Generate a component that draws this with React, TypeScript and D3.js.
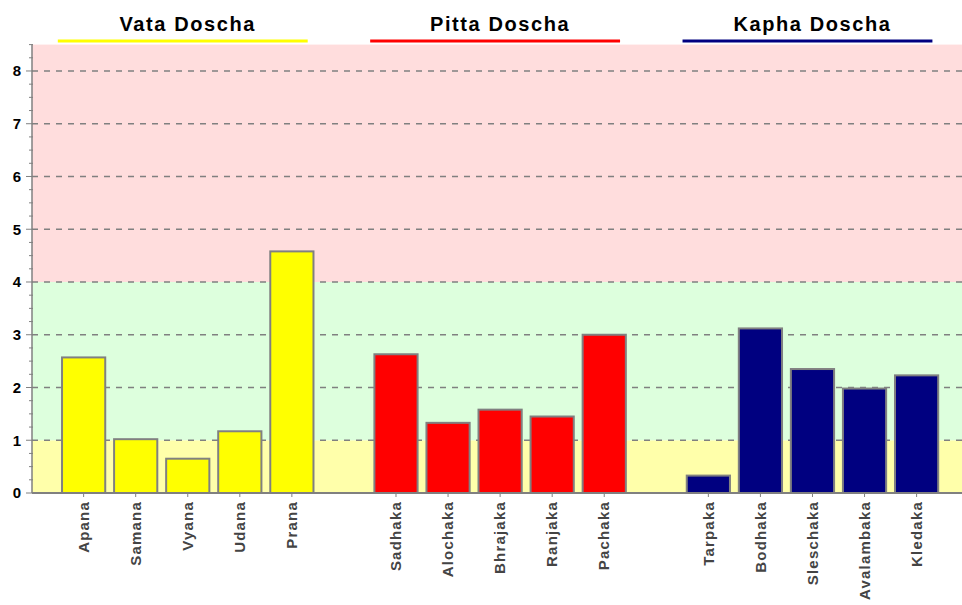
import React from "react";
import { scaleBand, scaleLinear, range } from "d3";

// Gruppen und Werte
const groups = ["Vata Doscha", "Pitta Doscha", "Kapha Doscha"];
const groupColors = ["#ffff00", "#ff0000", "#000080"];
const vataLabels = ["Apana", "Samana", "Vyana", "Udana", "Prana"];
const vataValues = [2.57, 1.02, 0.65, 1.17, 4.58];
const pittaLabels = ["Sadhaka", "Alochaka", "Bhrajaka", "Ranjaka", "Pachaka"];
const pittaValues = [2.63, 1.33, 1.58, 1.45, 3.0];
const kaphaLabels = ["Tarpaka", "Bodhaka", "Sleschaka", "Avalambaka", "Kledaka"];
const kaphaValues = [0.33, 3.12, 2.35, 1.98, 2.23];
const yTicks = [0, 1, 2, 3, 4, 5, 6, 7, 8];
// Zonen: gelb 0-1, grün 1-4, rot ab 4
const zones = [
  { from: 0, to: 1, color: "#ffffaa" },
  { from: 1, to: 4, color: "#ddffdd" },
  { from: 4, to: 8.5, color: "#ffdddd" },
];

const groupLabels = [vataLabels, pittaLabels, kaphaLabels];
const groupValues = [vataValues, pittaValues, kaphaValues];

export default function App() {
  const width = 962;
  const height = 605;
  const left = 32;
  const right = 962;
  const top = 44.6;
  const bottom = 493;

  // Slots inkl. Leerplätze zwischen den Gruppen
  const slots: string[] = [];
  groupLabels.forEach((labels, gi) => {
    if (gi > 0) slots.push(`__gap${gi}`);
    labels.forEach((l) => slots.push(l));
  });
  const step = 52.06;
  const pIn = 0.17;
  const r0 = 36;
  const x = scaleBand<string>()
    .domain(slots)
    .range([r0, r0 + step * (slots.length - pIn + 1)])
    .paddingOuter(0.5)
    .paddingInner(pIn);

  const y = scaleLinear().domain([0, 8.5]).range([bottom, top]);
  const minorTicks = range(0, 8.51, 0.25);

  const font = "'Liberation Sans', Arial, sans-serif";

  return (
    <svg
      width={width}
      height={height}
      style={{ position: "absolute", left: 0, top: 0, background: "#fff" }}
    >
      {/* Hintergrundzonen */}
      {zones.map((z, i) => (
        <rect
          key={i}
          x={left}
          y={y(z.to)}
          width={right - left}
          height={y(z.from) - y(z.to)}
          fill={z.color}
        />
      ))}
      {/* Gitterlinien */}
      {yTicks.slice(1).map((t) => (
        <line
          key={t}
          x1={left}
          x2={right}
          y1={y(t)}
          y2={y(t)}
          stroke="#808080"
          strokeWidth={1.5}
          strokeDasharray="6,6"
        />
      ))}
      {/* Balken */}
      {groupLabels.map((labels, gi) =>
        labels.map((l, i) => (
          <rect
            key={l}
            x={x(l)!}
            y={y(groupValues[gi][i])}
            width={x.bandwidth()}
            height={y(0) - y(groupValues[gi][i])}
            fill={groupColors[gi]}
            stroke="#808080"
            strokeWidth={2}
          />
        ))
      )}
      {/* Y-Achse */}
      <line x1={left} x2={left} y1={top} y2={bottom} stroke="#808080" strokeWidth={1.5} />
      {minorTicks.map((t) => (
        <line
          key={t}
          x1={Number.isInteger(t) ? left - 6 : left - 3}
          x2={left + 1}
          y1={y(t)}
          y2={y(t)}
          stroke="#808080"
          strokeWidth={1}
        />
      ))}
      {yTicks.map((t) => (
        <text
          key={t}
          x={21}
          y={y(t)}
          dy="0.36em"
          textAnchor="end"
          fontFamily={font}
          fontWeight="bold"
          fontSize={15}
          fill="#000"
        >
          {t}
        </text>
      ))}
      {/* X-Achse */}
      <line x1={left} x2={right} y1={bottom} y2={bottom} stroke="#808080" strokeWidth={2} />
      {groupLabels.flat().map((l) => {
        const cx = x(l)! + x.bandwidth() / 2;
        return (
          <g key={l}>
            <line x1={cx} x2={cx} y1={bottom} y2={bottom + 4} stroke="#808080" strokeWidth={1} />
            <text
              transform={`translate(${cx}, ${501}) rotate(-90)`}
              dy="0.35em"
              textAnchor="end"
              fontFamily={font}
              fontWeight="bold"
              fontSize={15}
              letterSpacing={1.2}
              fill="#444"
            >
              {l}
            </text>
          </g>
        );
      })}
      {/* Legende oben */}
      {groups.map((g, gi) => {
        const labels = groupLabels[gi];
        const mid = x(labels[2])! + x.bandwidth() / 2 - 5;
        const half = 2.4 * step;
        return (
          <g key={g}>
            <text
              x={mid + 5}
              y={31}
              textAnchor="middle"
              fontFamily={font}
              fontWeight="bold"
              fontSize={20}
              letterSpacing={1.6}
              fill="#000"
            >
              {g}
            </text>
            <line
              x1={mid - half}
              x2={mid + half}
              y1={41}
              y2={41}
              stroke={groupColors[gi]}
              strokeWidth={3}
            />
          </g>
        );
      })}
    </svg>
  );
}
